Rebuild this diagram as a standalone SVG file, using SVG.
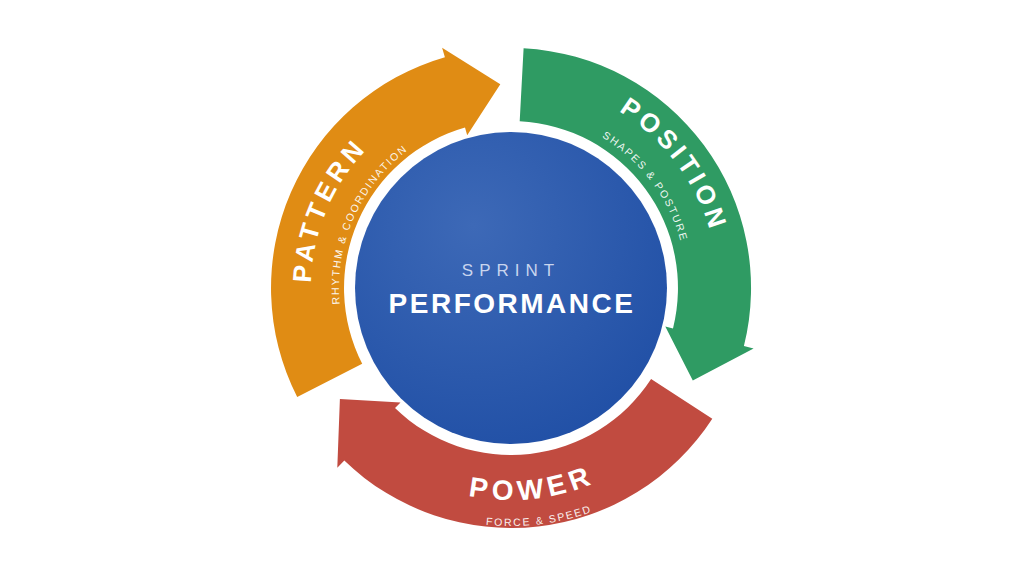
<svg xmlns="http://www.w3.org/2000/svg" width="1024" height="576" viewBox="0 0 1024 576">
<defs>
<radialGradient id="g" cx="0.38" cy="0.3" r="0.75">
<stop offset="0" stop-color="#3d69b7"/><stop offset="1" stop-color="#2150a6"/>
</radialGradient>
<path id="tp1" d="M351.3,408.4 A200,200 0 0 1 486.6,89.5"/>
<path id="tp2" d="M371.9,389.1 A172,172 0 0 1 493.0,116.9"/>
<path id="tp3" d="M485.8,82.6 A207,207 0 0 1 701.5,368.9"/>
<path id="tp4" d="M489.5,113.3 A176,176 0 0 1 673.0,356.8"/>
<path id="tp5" d="M339.5,412.6 A212,212 0 0 0 704.7,374.2"/>
<path id="tp6" d="M320.9,431.2 A238,238 0 0 0 730.1,381.0"/>
</defs>
<style>
.big{font-family:"Liberation Sans",Arial,sans-serif;font-weight:bold;fill:#fff;text-anchor:middle}
.sm{font-family:"Liberation Sans",Arial,sans-serif;fill:#fff;font-size:10.5px;letter-spacing:1.8px;text-anchor:middle;opacity:0.92}
</style>
<rect width="1024" height="576" fill="#fff"/>
<g id="connectors">
<path id="pattern-arrow" fill="#e08c14" d="M362.2,363.8 L297.2,397.0 A240,240 0 0 1 444.9,57.3 L442.1,47.7 L500.3,84.3 L467.2,135.2 L465.0,127.5 A167,167 0 0 0 362.2,363.8 Z"/>
<path id="position-arrow" fill="#2f9b63" d="M519.7,121.2 L523.6,48.3 A240,240 0 0 1 743.9,346.1 L753.6,348.5 L692.8,380.6 L665.3,326.5 L673.0,328.4 A167,167 0 0 0 519.7,121.2 Z"/>
<path id="power-arrow" fill="#c14b40" d="M651.1,379.0 L712.3,418.7 A240,240 0 0 1 344.3,460.6 L337.3,467.8 L339.9,399.1 L400.5,402.4 L395.0,408.1 A167,167 0 0 0 651.1,379.0 Z"/>
</g>
<g id="pattern">
<text class="big" font-size="26" letter-spacing="4.5"><textPath href="#tp1" startOffset="50%">PATTERN</textPath></text>
<text class="sm"><textPath href="#tp2" startOffset="50%">RHYTHM &amp; COORDINATION</textPath></text>
</g>
<g id="position">
<text class="big" font-size="26" letter-spacing="4"><textPath href="#tp3" startOffset="50%">POSITION</textPath></text>
<text class="sm"><textPath href="#tp4" startOffset="50%">SHAPES &amp; POSTURE</textPath></text>
</g>
<g id="power">
<text class="big" font-size="28" letter-spacing="5"><textPath href="#tp5" startOffset="50%">POWER</textPath></text>
<text class="sm" letter-spacing="1.5"><textPath href="#tp6" startOffset="50%">FORCE &amp; SPEED</textPath></text>
</g>
<g id="center">
<circle cx="511" cy="288" r="156" fill="url(#g)"/>
<text x="511" y="276" font-family="Liberation Sans,Arial,sans-serif" font-size="17" letter-spacing="6" fill="#c9d5ee" text-anchor="middle">SPRINT</text>
<text x="512" y="313" font-family="Liberation Sans,Arial,sans-serif" font-size="28" font-weight="bold" letter-spacing="2.5" fill="#fff" text-anchor="middle">PERFORMANCE</text>
</g>
</svg>
